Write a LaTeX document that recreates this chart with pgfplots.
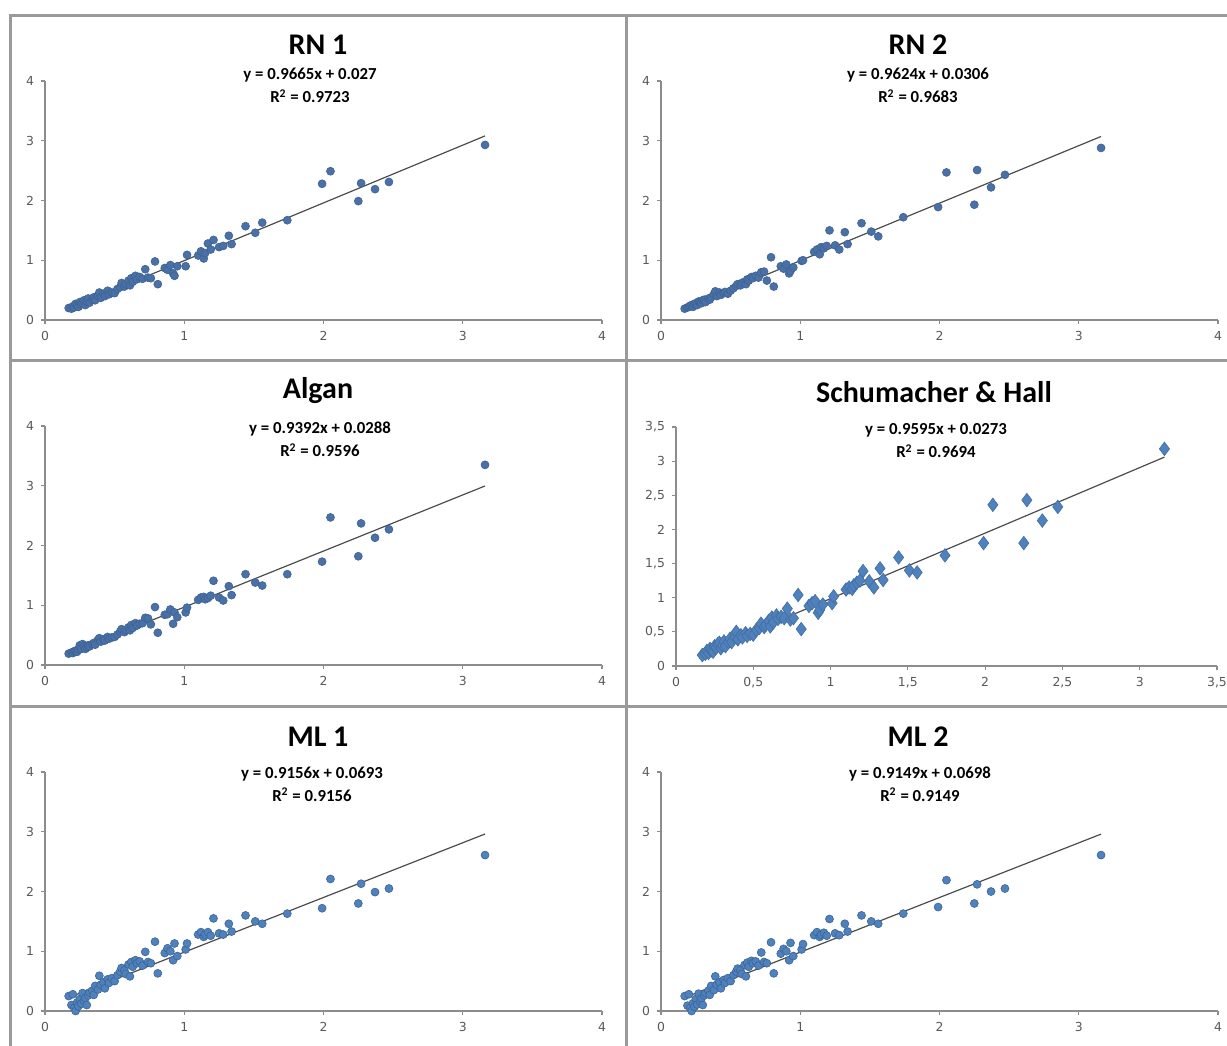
\documentclass[border=0pt]{standalone}
\usepackage{fontspec}
\setmainfont{Carlito}
\newfontfamily\tickfont{DejaVu Sans}
\usepackage{pgfplots}
\pgfplotsset{compat=1.18}
\usepackage{pgfplotstable}

\definecolor{ptblue}{HTML}{4F81BD}
\definecolor{ptdark}{HTML}{4A70A6}
\definecolor{ptedge}{HTML}{3B6496}
\definecolor{axgray}{HTML}{8C8C8C}
\definecolor{framegray}{HTML}{9A9A9A}

% x = observed, then one column per model
\pgfplotstableread{
x    rnA  rnB  alg  sh   mlA  mlB
0.17 0.20 0.19 0.19 0.16 0.25 0.25
0.19 0.19 0.21 0.21 0.18 0.10 0.09
0.20 0.23 0.22 0.20 0.22 0.28 0.28
0.21 0.21 0.24 0.23 0.19 0.05 0.05
0.22 0.27 0.25 0.24 0.25 0.00 0.00
0.23 0.24 0.22 0.22 0.23 0.14 0.13
0.24 0.22 0.27 0.26 0.21 0.08 0.07
0.25 0.30 0.28 0.33 0.29 0.20 0.20
0.26 0.26 0.25 0.27 0.27 0.12 0.11
0.27 0.28 0.31 0.35 0.32 0.30 0.29
0.28 0.33 0.29 0.31 0.34 0.17 0.16
0.29 0.25 0.28 0.27 0.26 0.22 0.21
0.30 0.31 0.33 0.30 0.30 0.10 0.10
0.31 0.36 0.34 0.33 0.36 0.26 0.26
0.32 0.29 0.30 0.31 0.29 0.31 0.30
0.34 0.34 0.36 0.35 0.35 0.34 0.34
0.35 0.38 0.34 0.37 0.40 0.27 0.27
0.36 0.33 0.38 0.34 0.35 0.42 0.42
0.38 0.41 0.43 0.42 0.43 0.36 0.35
0.39 0.46 0.48 0.45 0.50 0.59 0.58
0.40 0.37 0.40 0.39 0.39 0.44 0.44
0.42 0.44 0.46 0.43 0.45 0.48 0.48
0.43 0.40 0.42 0.41 0.42 0.38 0.38
0.45 0.49 0.45 0.47 0.48 0.53 0.52
0.46 0.43 0.47 0.44 0.44 0.47 0.47
0.48 0.46 0.44 0.46 0.47 0.55 0.55
0.50 0.45 0.49 0.47 0.46 0.50 0.50
0.52 0.52 0.53 0.51 0.53 0.60 0.60
0.54 0.55 0.57 0.56 0.56 0.66 0.66
0.55 0.62 0.60 0.60 0.62 0.72 0.71
0.57 0.56 0.58 0.55 0.57 0.68 0.68
0.58 0.60 0.62 0.59 0.60 0.62 0.62
0.60 0.66 0.64 0.63 0.66 0.78 0.77
0.61 0.58 0.60 0.58 0.58 0.58 0.58
0.62 0.70 0.68 0.67 0.71 0.82 0.81
0.63 0.64 0.66 0.62 0.64 0.74 0.74
0.65 0.74 0.72 0.70 0.74 0.85 0.84
0.66 0.68 0.70 0.66 0.69 0.80 0.80
0.68 0.72 0.74 0.69 0.72 0.83 0.83
0.70 0.69 0.71 0.70 0.70 0.76 0.76
0.72 0.85 0.80 0.79 0.84 0.99 0.98
0.74 0.71 0.81 0.78 0.68 0.82 0.82
0.76 0.70 0.66 0.68 0.70 0.80 0.80
0.79 0.98 1.05 0.97 1.04 1.16 1.15
0.81 0.60 0.56 0.54 0.54 0.63 0.63
0.86 0.87 0.90 0.84 0.88 0.97 0.96
0.88 0.84 0.86 0.85 0.92 1.05 1.04
0.90 0.92 0.93 0.93 0.95 1.00 1.00
0.92 0.78 0.78 0.69 0.78 0.85 0.85
0.93 0.74 0.82 0.88 0.82 1.13 1.14
0.95 0.90 0.88 0.80 0.90 0.92 0.92
1.01 0.90 0.99 0.88 0.92 1.03 1.03
1.02 1.09 1.00 0.96 1.02 1.13 1.12
1.10 1.08 1.14 1.09 1.12 1.28 1.27
1.12 1.15 1.18 1.13 1.15 1.32 1.32
1.14 1.03 1.10 1.14 1.13 1.24 1.24
1.15 1.12 1.22 1.10 1.18 1.28 1.28
1.17 1.28 1.20 1.12 1.22 1.32 1.31
1.19 1.18 1.24 1.16 1.25 1.26 1.26
1.21 1.34 1.50 1.41 1.39 1.55 1.54
1.25 1.22 1.25 1.13 1.24 1.30 1.30
1.28 1.24 1.18 1.08 1.15 1.28 1.27
1.32 1.41 1.47 1.32 1.43 1.46 1.46
1.34 1.27 1.27 1.17 1.26 1.33 1.33
1.44 1.57 1.62 1.52 1.59 1.60 1.60
1.51 1.46 1.48 1.38 1.40 1.50 1.50
1.56 1.63 1.40 1.33 1.37 1.46 1.46
1.74 1.67 1.72 1.52 1.62 1.63 1.63
1.99 2.28 1.89 1.73 1.80 1.72 1.74
2.05 2.49 2.47 2.47 2.36 2.21 2.19
2.25 1.99 1.93 1.82 1.80 1.80 1.80
2.27 2.29 2.51 2.37 2.43 2.13 2.12
2.37 2.19 2.22 2.13 2.13 1.99 2.00
2.47 2.31 2.43 2.27 2.33 2.05 2.05
3.16 2.93 2.88 3.35 3.18 2.61 2.61
}\obs

\pgfplotsset{
  panel/.style={
    scale only axis, width=278.5pt, height=119.5pt, anchor=south west,
    xmin=0, xmax=4, ymin=0, ymax=4, xtick={0,...,4}, ytick={0,...,4},
    axis lines*=left, axis line style={axgray, line width=0.6pt},
    tick style={axgray, line width=0.6pt}, tick align=outside,
    major tick length=2pt,
    tick label style={font=\tickfont\fontsize{6.2}{7}\selectfont, text=black!65},
    /pgf/number format/assume math mode=true,
    clip=false,
  },
  dots/.style={only marks, mark=*, mark size=2pt,
    mark options={fill=#1, draw=ptedge, line width=0.3pt}},
  dots/.default=ptdark,
  trend/.style={black!70, line width=0.6pt, no marks},
}
\newcommand{\ttl}{\bfseries\fontsize{15}{18}\selectfont}
\newcommand{\eqf}{\bfseries\fontsize{8.4}{11.5}\selectfont}

\begin{document}
\begin{tikzpicture}
\useasboundingbox (0,0) rectangle (613.5pt,-522.5pt);
\clip (0,0) rectangle (613.5pt,-522.5pt);

% panel frames
\draw[framegray, line width=1.5pt] (5pt,-7.5pt) rectangle (640pt,-540pt);
\draw[framegray, line width=1.5pt] (313pt,-7.5pt) -- (313pt,-540pt);
\draw[framegray, line width=1.5pt] (5pt,-180pt) -- (640pt,-180pt);
\draw[framegray, line width=1.5pt] (5pt,-353pt) -- (640pt,-353pt);

% RN 1
\begin{axis}[panel, at={(22.5pt,-160pt)}]
\addplot[dots] table[x=x, y=rnA] {\obs};
\addplot[trend] coordinates {(0.17,0.1913) (3.16,3.0811)};
\end{axis}
\node[font=\ttl] at (159pt,-22.5pt) {RN 1};
\node[font=\eqf, align=center] at (155pt,-42.75pt) {y = 0.9665x + 0.027\\R\textsuperscript{2} = 0.9723};

% RN 2
\begin{axis}[panel, at={(330.5pt,-160pt)}]
\addplot[dots] table[x=x, y=rnB] {\obs};
\addplot[trend] coordinates {(0.17,0.1942) (3.16,3.0718)};
\end{axis}
\node[font=\ttl] at (459pt,-22.5pt) {RN 2};
\node[font=\eqf, align=center] at (459pt,-42.75pt) {y = 0.9624x + 0.0306\\R\textsuperscript{2} = 0.9683};

% Algan
\begin{axis}[panel, at={(22.5pt,-332.5pt)}]
\addplot[dots] table[x=x, y=alg] {\obs};
\addplot[trend] coordinates {(0.17,0.1885) (3.16,2.9967)};
\end{axis}
\node[font=\ttl] at (159pt,-195.5pt) {Algan};
\node[font=\eqf, align=center] at (160pt,-219.75pt) {y = 0.9392x + 0.0288\\R\textsuperscript{2} = 0.9596};

% Schumacher & Hall
\begin{axis}[panel, at={(338pt,-333pt)}, width=270.5pt,
  xmax=3.5, ymax=3.5, xtick={0,0.5,...,3.5}, ytick={0,0.5,...,3.5},
  /pgf/number format/use comma]
\addplot[only marks, mark=diamond*, mark size=3.4pt,
  mark options={fill=ptblue, draw=ptblue!85!black, line width=0.3pt}]
  table[x=x, y=sh] {\obs};
\addplot[trend] coordinates {(0.17,0.1904) (3.16,3.0593)};
\end{axis}
\node[font=\ttl] at (467pt,-196pt) {Schumacher \& Hall};
\node[font=\eqf, align=center] at (468pt,-220.5pt) {y = 0.9595x + 0.0273\\R\textsuperscript{2} = 0.9694};

% ML 1
\begin{axis}[panel, at={(22.5pt,-505.5pt)}]
\addplot[dots=ptblue] table[x=x, y=mlA] {\obs};
\addplot[trend] coordinates {(0.17,0.2250) (3.16,2.9626)};
\end{axis}
\node[font=\ttl] at (159pt,-368.5pt) {ML 1};
\node[font=\eqf, align=center] at (156pt,-392pt) {y = 0.9156x + 0.0693\\R\textsuperscript{2} = 0.9156};

% ML 2
\begin{axis}[panel, at={(330.5pt,-505.5pt)}]
\addplot[dots=ptblue] table[x=x, y=mlB] {\obs};
\addplot[trend] coordinates {(0.17,0.2253) (3.16,2.9609)};
\end{axis}
\node[font=\ttl] at (459pt,-368.5pt) {ML 2};
\node[font=\eqf, align=center] at (460pt,-392pt) {y = 0.9149x + 0.0698\\R\textsuperscript{2} = 0.9149};
\end{tikzpicture}
\end{document}
